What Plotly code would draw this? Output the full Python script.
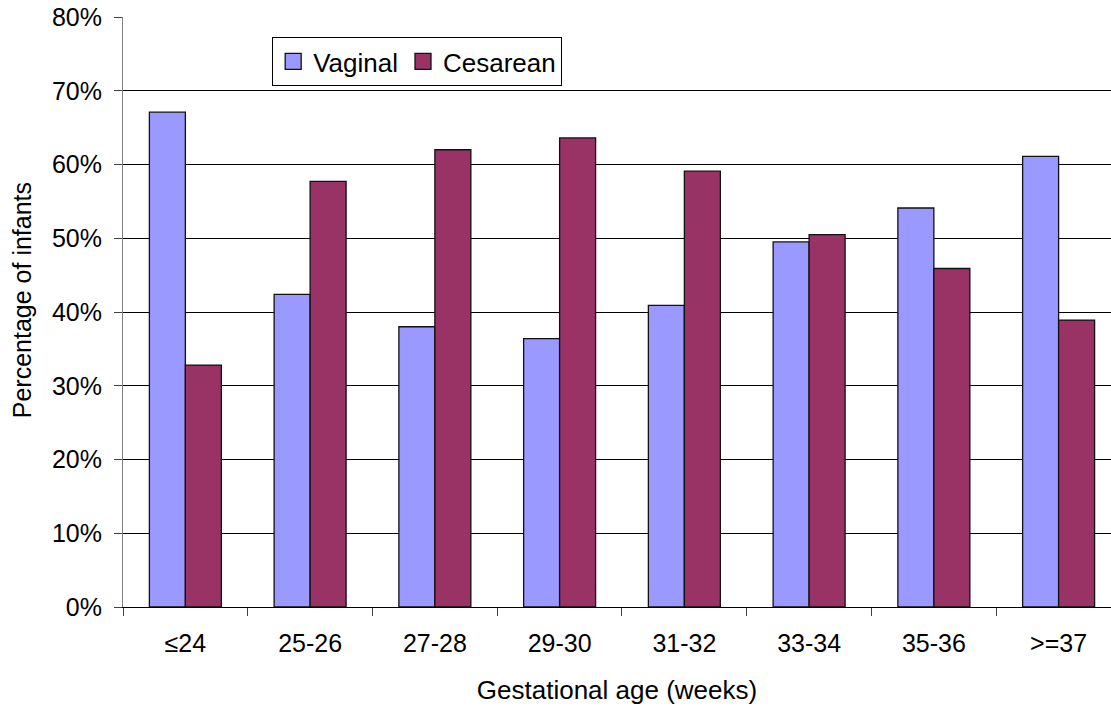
import plotly.graph_objects as go

categories = ["≤24", "25-26", "27-28", "29-30", "31-32", "33-34", "35-36", ">=37"]
vaginal = [67.1, 42.4, 38.0, 36.4, 40.9, 49.5, 54.1, 61.1]
cesarean = [32.8, 57.7, 62.0, 63.6, 59.1, 50.5, 45.9, 38.9]
y_ticks = [0, 10, 20, 30, 40, 50, 60, 70, 80]
y_tick_labels = [f"{v}%" for v in y_ticks]

VAG_COLOR = "#9999FF"
CES_COLOR = "#993366"
FONT = "Liberation Sans, Arial, sans-serif"

fig = go.Figure()
fig.add_trace(go.Bar(x=categories, y=vaginal, name="Vaginal", marker_color=VAG_COLOR,
                     marker_line=dict(color="#111111", width=1.3), showlegend=False))
fig.add_trace(go.Bar(x=categories, y=cesarean, name="Cesarean", marker_color=CES_COLOR,
                     marker_line=dict(color="#111111", width=1.3), showlegend=False))
# legend entries with larger square swatches
for name, col in [("Vaginal", VAG_COLOR), ("Cesarean", CES_COLOR)]:
    fig.add_trace(go.Scatter(x=[None], y=[None], mode="markers", name=name,
                             marker=dict(symbol="square", size=18, color=col,
                                         line=dict(color="#111111", width=1.3))))

fig.update_layout(
    width=1111, height=709,
    margin=dict(l=123, r=0, t=17, b=102),
    paper_bgcolor="white", plot_bgcolor="white",
    barmode="group", bargap=0.423, bargroupgap=0,
    font=dict(family=FONT, size=25, color="black"),
    legend=dict(x=0.151, y=0.966, xanchor="left", yanchor="top",
                orientation="h", bordercolor="black", borderwidth=1,
                bgcolor="white", font=dict(size=26), itemsizing="trace",
                tracegroupgap=0, itemwidth=30),
    showlegend=True,
    annotations=[dict(text="Percentage of infants", textangle=-90,
                      xref="paper", yref="paper", x=-0.1022, y=0.52,
                      xanchor="center", yanchor="middle", showarrow=False,
                      font=dict(size=25))],
)
fig.update_xaxes(
    type="category", range=[-0.5, 7.42],
    tickson="boundaries", ticks="outside", ticklen=8, tickcolor="#404040",
    showline=True, linecolor="black", linewidth=1,
    tickfont=dict(size=25), ticklabelstandoff=14,
    title=dict(text="Gestational age (weeks)", font=dict(size=26), standoff=24),
    showgrid=False, zeroline=False,
)
fig.update_yaxes(
    range=[0, 80], tickvals=y_ticks, ticktext=y_tick_labels,
    ticks="outside", ticklen=8, tickcolor="#404040",
    showline=True, linecolor="#808080", linewidth=1,
    showgrid=True, gridcolor="black", gridwidth=1,
    tickfont=dict(size=25), ticklabelstandoff=7,
    zeroline=False,
)

fig.write_html("out.html")
